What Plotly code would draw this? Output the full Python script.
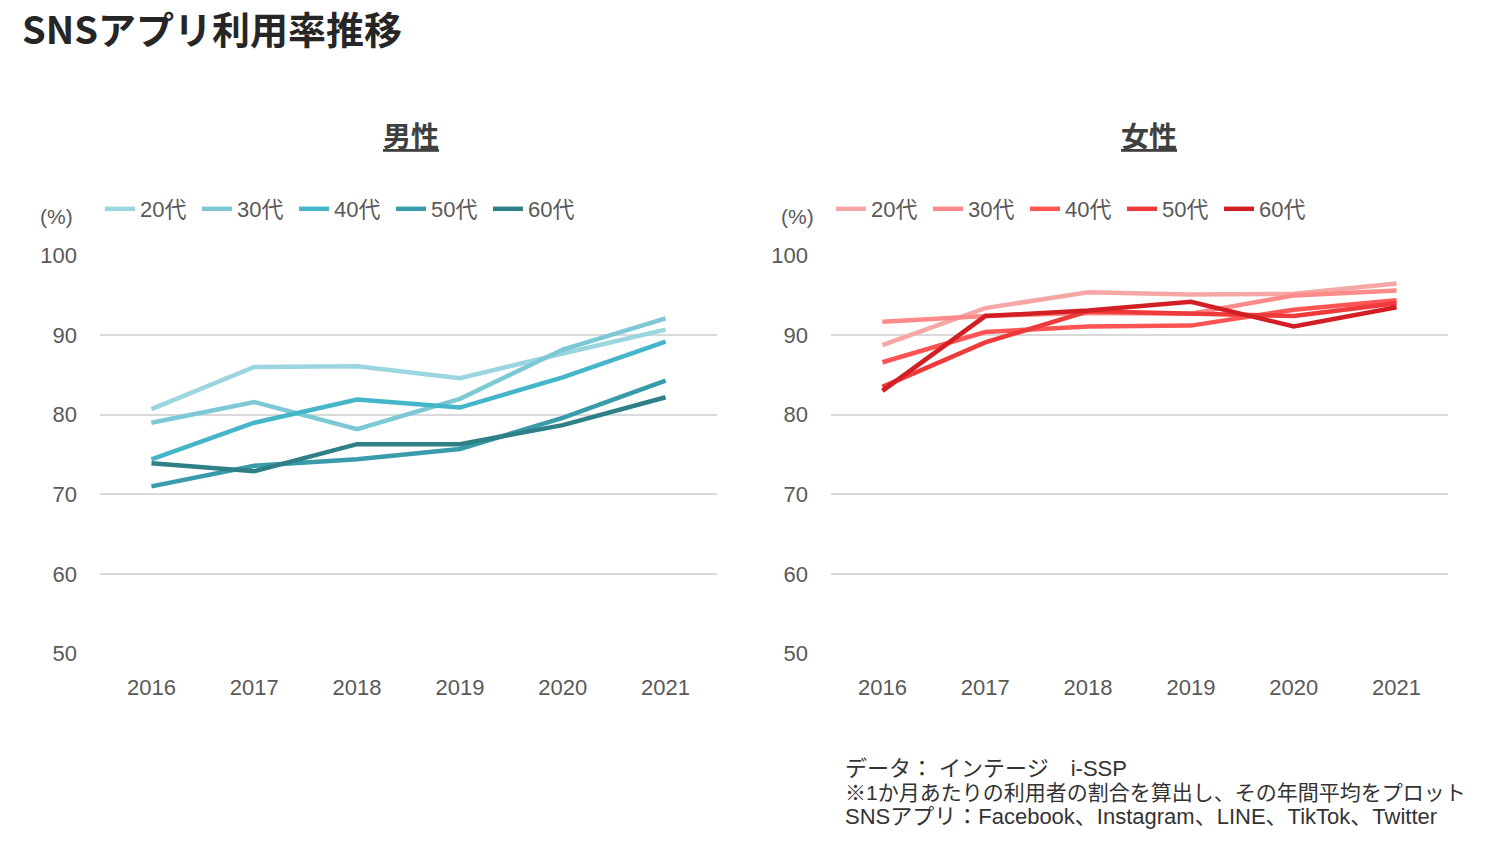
import plotly.graph_objects as go

years = ["2016", "2017", "2018", "2019", "2020", "2021"]
groups = ["20代", "30代", "40代", "50代", "60代"]

male_20 = [80.7, 86.0, 86.1, 84.6, 87.7, 90.7]
male_30 = [79.0, 81.6, 78.2, 82.0, 88.2, 92.1]
male_40 = [74.4, 79.0, 81.9, 80.9, 84.7, 89.2]
male_50 = [71.0, 73.6, 74.4, 75.7, 79.6, 84.3]
male_60 = [73.9, 72.9, 76.3, 76.3, 78.7, 82.2]

female_20 = [88.75, 93.4, 95.4, 95.1, 95.2, 96.5]
female_30 = [91.7, 92.4, 92.8, 92.7, 95.0, 95.6]
female_40 = [86.6, 90.4, 91.1, 91.2, 93.2, 94.4]
female_50 = [83.5, 89.1, 93.0, 92.7, 92.4, 94.0]
female_60 = [83.0, 92.4, 93.1, 94.2, 91.1, 93.5]

male_colors = ["#9AD5E0", "#7CC9D5", "#45B5C9", "#3A9BAA", "#2F7F87"]
female_colors = ["#F7A6A6", "#FF8A8A", "#FF5454", "#EE3A3A", "#D21F24"]

y_ticks = [50, 60, 70, 80, 90, 100]

notes = ["データ： インテージ　i-SSP",
         "※1か月あたりの利用者の割合を算出し、その年間平均をプロット",
         "SNSアプリ：Facebook、Instagram、LINE、TikTok、Twitter"]
note_sizes = [22, 21, 22]

FONT = "Arial, Liberation Sans, Noto Sans CJK JP, sans-serif"
GRAY = "#595959"

fig = go.Figure()

male = [male_20, male_30, male_40, male_50, male_60]
female = [female_20, female_30, female_40, female_50, female_60]

for g, vals, c in zip(groups, male, male_colors):
    fig.add_trace(go.Scatter(x=years, y=vals, name=g, mode="lines",
                             line=dict(color=c, width=4.5),
                             xaxis="x", yaxis="y", legend="legend"))
for g, vals, c in zip(groups, female, female_colors):
    fig.add_trace(go.Scatter(x=years, y=vals, name=g, mode="lines",
                             line=dict(color=c, width=4.5),
                             xaxis="x2", yaxis="y2", legend="legend2"))

W, H = 1491, 847
left_dom = [100 / W, 717 / W]
right_dom = [831 / W, 1448 / W]
y_dom = [(H - 661) / H, (H - 251) / H]

xaxis_common = dict(type="category", range=[-0.5, 5.5], showgrid=False,
                    zeroline=False, showline=False, ticks="",
                    tickfont=dict(size=22, color=GRAY, family=FONT),
                    ticklabelstandoff=19)
yaxis_common = dict(range=[50, 100], tickvals=y_ticks, showgrid=True,
                    gridcolor="#D9D9D9", gridwidth=2, zeroline=False,
                    showline=False, ticks="",
                    tickfont=dict(size=22, color=GRAY, family=FONT),
                    ticklabelstandoff=22)

legend_common = dict(orientation="h", yanchor="middle", xanchor="left",
                     font=dict(size=22, color=GRAY, family=FONT),
                     bgcolor="rgba(0,0,0,0)", itemwidth=30,
                     tracegroupgap=0, traceorder="normal",
                     entrywidth=52, entrywidthmode="pixels")

annotations = [
    dict(text="<b>SNSアプリ利用率推移</b>", x=20 / W, y=1 - 16 / H,
         xref="paper", yref="paper", xanchor="left", yanchor="middle",
         showarrow=False,
         font=dict(size=38, color="#262626", family="Noto Sans CJK JP, sans-serif")),
    dict(text="<u><b>男性</b></u>", x=411 / W, y=1 - 127 / H,
         xref="paper", yref="paper", xanchor="center", yanchor="middle",
         showarrow=False,
         font=dict(size=28, color="#404040", family="Noto Sans CJK JP, sans-serif")),
    dict(text="<u><b>女性</b></u>", x=1149 / W, y=1 - 127 / H,
         xref="paper", yref="paper", xanchor="center", yanchor="middle",
         showarrow=False,
         font=dict(size=28, color="#404040", family="Noto Sans CJK JP, sans-serif")),
    dict(text="(%)", x=56 / W, y=1 - 211 / H,
         xref="paper", yref="paper", xanchor="center", yanchor="middle",
         showarrow=False, font=dict(size=21, color=GRAY, family=FONT)),
    dict(text="(%)", x=797 / W, y=1 - 211 / H,
         xref="paper", yref="paper", xanchor="center", yanchor="middle",
         showarrow=False, font=dict(size=21, color=GRAY, family=FONT)),
]
for i, (t, s) in enumerate(zip(notes, note_sizes)):
    annotations.append(dict(text=t, x=843 / W, y=1 - (779 + 25 * i) / H,
                            xref="paper", yref="paper", xanchor="left",
                            yanchor="middle", align="left", showarrow=False,
                            font=dict(size=s, color="#333333", family=FONT)))

fig.update_layout(
    width=W, height=H,
    margin=dict(l=0, r=0, t=0, b=0),
    paper_bgcolor="white", plot_bgcolor="white",
    font=dict(family=FONT, color=GRAY),
    xaxis=dict(domain=left_dom, anchor="y", **xaxis_common),
    yaxis=dict(domain=y_dom, anchor="x", **yaxis_common),
    xaxis2=dict(domain=right_dom, anchor="y2", **xaxis_common),
    yaxis2=dict(domain=y_dom, anchor="x2", **yaxis_common),
    legend=dict(x=100 / W, y=1 - 203 / H, **legend_common),
    legend2=dict(x=831 / W, y=1 - 203 / H, **legend_common),
    showlegend=True,
    annotations=annotations,
)

fig.write_html("out.html")
